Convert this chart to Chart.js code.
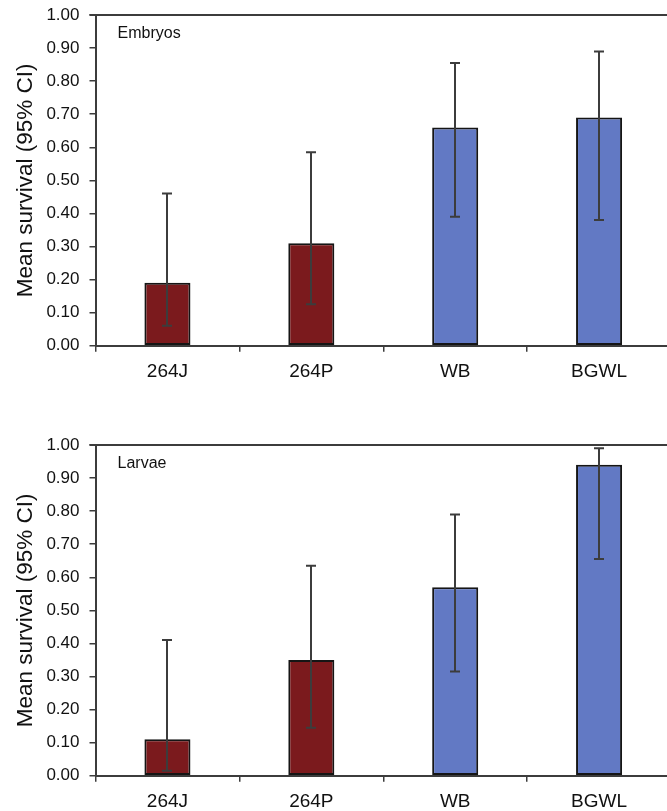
<!DOCTYPE html>
<html>
<head>
<meta charset="utf-8">
<script src="https://cdn.jsdelivr.net/npm/chart.js@4/dist/chart.umd.min.js"></script>
<style>
  html, body { margin: 0; padding: 0; background: #fff; overflow: hidden; width: 667px; height: 811px; }
  canvas { position: absolute; left: 0; }
  #c1 { top: 0; }
  #c2 { top: 400px; }
</style>
</head>
<body>
<canvas id="c1" width="676" height="400"></canvas>
<canvas id="c2" width="676" height="411"></canvas>
<script>
// ---- data ----
const categories = ['264J', '264P', 'WB', 'BGWL'];
const embryoMean = [0.19, 0.31, 0.66, 0.69];
const embryoLow  = [0.06, 0.125, 0.39, 0.38];
const embryoHigh = [0.46, 0.585, 0.855, 0.89];
const larvaeMean = [0.11, 0.35, 0.57, 0.94];
const larvaeLow  = [0.015, 0.145, 0.315, 0.655];
const larvaeHigh = [0.41, 0.635, 0.79, 0.99];
const yTicks = [0, 0.1, 0.2, 0.3, 0.4, 0.5, 0.6, 0.7, 0.8, 0.9, 1.0];
const yTitle = 'Mean survival (95% CI)';
const panelTitles = ['Embryos', 'Larvae'];

// ---- styles ----
const FONT = "'Liberation Sans', Arial, sans-serif";
const AXIS = '#3c3c3c';
const RED = '#7b1a1d';
const BLUE = '#6279c4';
const barColors = [RED, RED, BLUE, BLUE];

function makeChart(canvasId, mean, low, high, panel, padTop, xHeight) {
  const errPlugin = {
    id: 'errbars',
    afterDatasetsDraw(chart) {
      const ctx = chart.ctx;
      const meta = chart.getDatasetMeta(0);
      const ys = chart.scales.y;
      ctx.save();
      ctx.strokeStyle = AXIS;
      ctx.lineWidth = 2;
      meta.data.forEach((bar, i) => {
        const x = Math.round(bar.x);
        const y1 = ys.getPixelForValue(low[i]);
        const y2 = ys.getPixelForValue(high[i]);
        ctx.beginPath();
        ctx.moveTo(x, y1); ctx.lineTo(x, y2);
        ctx.moveTo(x - 5, y1); ctx.lineTo(x + 5, y1);
        ctx.moveTo(x - 5, y2); ctx.lineTo(x + 5, y2);
        ctx.stroke();
      });
      // frame top line
      const a = chart.chartArea;
      ctx.lineWidth = 2;
      ctx.beginPath();
      ctx.moveTo(a.left - 6, a.top);
      ctx.lineTo(a.right, a.top);
      ctx.moveTo(a.right, a.top);
      ctx.lineTo(a.right, a.bottom);
      ctx.stroke();
      // panel label
      ctx.fillStyle = '#111';
      ctx.font = '16px ' + FONT;
      ctx.textAlign = 'left';
      ctx.textBaseline = 'alphabetic';
      ctx.fillText(panel, a.left + 22, a.top + 23);
      ctx.restore();
    }
  };

  return new Chart(document.getElementById(canvasId), {
    type: 'bar',
    data: {
      labels: categories,
      datasets: [{
        data: mean,
        backgroundColor: barColors,
        borderColor: '#151515',
        borderWidth: 2,
        borderSkipped: false,
        categoryPercentage: 1.0,
        barPercentage: 0.32
      }]
    },
    options: {
      responsive: false,
      animation: false,
      devicePixelRatio: 1,
      layout: { padding: { top: padTop, right: 5, bottom: 0, left: 0 } },
      plugins: { legend: { display: false }, tooltip: { enabled: false } },
      scales: {
        x: {
          offset: true,
          grid: { offset: true, drawOnChartArea: false, drawTicks: true, tickLength: 6, color: AXIS, lineWidth: 1.5 },
          border: { color: AXIS, width: 2 },
          ticks: { color: '#111', padding: 9, font: { family: FONT, size: 19 } },
          afterFit(s) { s.height = xHeight; s.paddingLeft = 0; s.paddingRight = 0; }
        },
        y: {
          min: 0, max: 1,
          afterBuildTicks(s) { s.ticks = yTicks.map(v => ({ value: v })); },
          grid: { drawOnChartArea: false, drawTicks: true, tickLength: 6, color: AXIS, lineWidth: 1.5 },
          border: { color: AXIS, width: 2 },
          ticks: { color: '#111', padding: 10, font: { family: FONT, size: 17 }, callback: v => Number(v).toFixed(2) },
          title: { display: true, text: yTitle, color: '#111', font: { family: FONT, size: 22.5 }, padding: { top: 12, bottom: 0 } },
          afterFit(s) { s.width = 95.5; s.paddingTop = 0; s.paddingBottom = 0; }
        }
      }
    },
    plugins: [errPlugin]
  });
}

makeChart('c1', embryoMean, embryoLow, embryoHigh, panelTitles[0], 15, 54.3);
makeChart('c2', larvaeMean, larvaeLow, larvaeHigh, panelTitles[1], 45, 35.3);
</script>
</body>
</html>
